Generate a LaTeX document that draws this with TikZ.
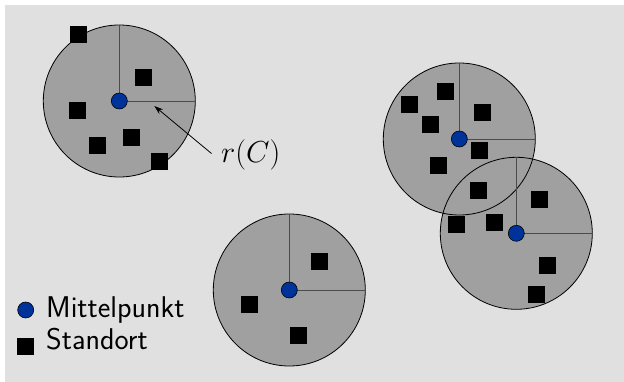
\documentclass[tikz,border=0pt]{standalone}
\usepackage{graphicx}
\usetikzlibrary{arrows.meta, positioning}
\usetikzlibrary{backgrounds}
\usepackage{xcolor}
\definecolor{bggray}{RGB}{224,224,224}
\definecolor{areagray}{RGB}{160,160,160}
\definecolor{dotblue}{RGB}{0,51,153}

\begin{document}
\begin{tikzpicture}[x=1pt, y=-1pt,
    area/.style={circle, draw, line width=0.8pt, minimum size=152pt, inner sep=0pt},
    site/.style={fill=black, minimum size=17pt, inner sep=0pt},
    mid/.style={circle, fill=dotblue, draw=black, line width=0.6pt, minimum size=16pt, inner sep=0pt},
    radius/.style={draw=black!70, line width=0.8pt},
    legend/.style={font=\fontsize{30}{36}\selectfont\sffamily, inner sep=0pt, anchor=base west}]

    \useasboundingbox (0,0) rectangle (624,382);

    % the four areas
    \node[area] (c1) at (119.3,101) {};
    \node[area] (c2) at (459.3,139) {};
    \node[area] (c3) at (516.3,233.3) {};
    \node[area] (c4) at (289.3,290) {};

    \begin{scope}[on background layer]
        \fill[bggray] (5,5) rectangle (624,382);
        \foreach \c in {c1,c2,c3,c4}
            \fill[areagray] (\c.center) circle (76pt);
    \end{scope}

    % radii
    \foreach \c in {c1,c2,c3,c4}{
        \draw[radius] (\c.center) -- (\c.north);
        \draw[radius] (\c.center) -- (\c.east);
    }

    % sites
    \foreach \x/\y [count=\i] in {78.7/35, 143.3/77.3, 77.3/111, 97.3/145.3, 131.3/138, 159.3/161.3,
        445.3/91.3, 409.3/104.3, 482.3/113, 430.3/124.3, 479.3/150.3, 438.3/165.3,
        478.3/190.3, 539.3/199.3, 456.3/225, 494.3/223, 547.3/265.3, 536.3/294.3,
        319.3/261.7, 249.3/304.3, 298.3/335.3}
        \node[site] (s\i) at (\x,\y) {};

    % centres
    \foreach \c in {c1,c2,c3,c4}
        \node[mid] (m\c) at (\c.center) {};

    % radius label
    \node[font=\Huge, inner sep=0pt, anchor=west] (rlabel) at (221,155) {\scalebox{1.22}{$r(C)$}};
    \coordinate (rtip) at (154.3,106);
    \coordinate (rfoot) at (211.5,153.5);
    \draw[-{Stealth[length=9pt, width=6pt]}, line width=0.8pt] (rfoot) -- (rtip);

    % legend
    \node[mid] (ldot) at (25.7,310) {};
    \node[site] (lsite) at (25.7,346.7) {};
    \node[legend] (lmid) at (46,317.3) {Mittelpunkt};
    \node[legend] (lsite text) at (46,349) {Standort};

\end{tikzpicture}
\end{document}
